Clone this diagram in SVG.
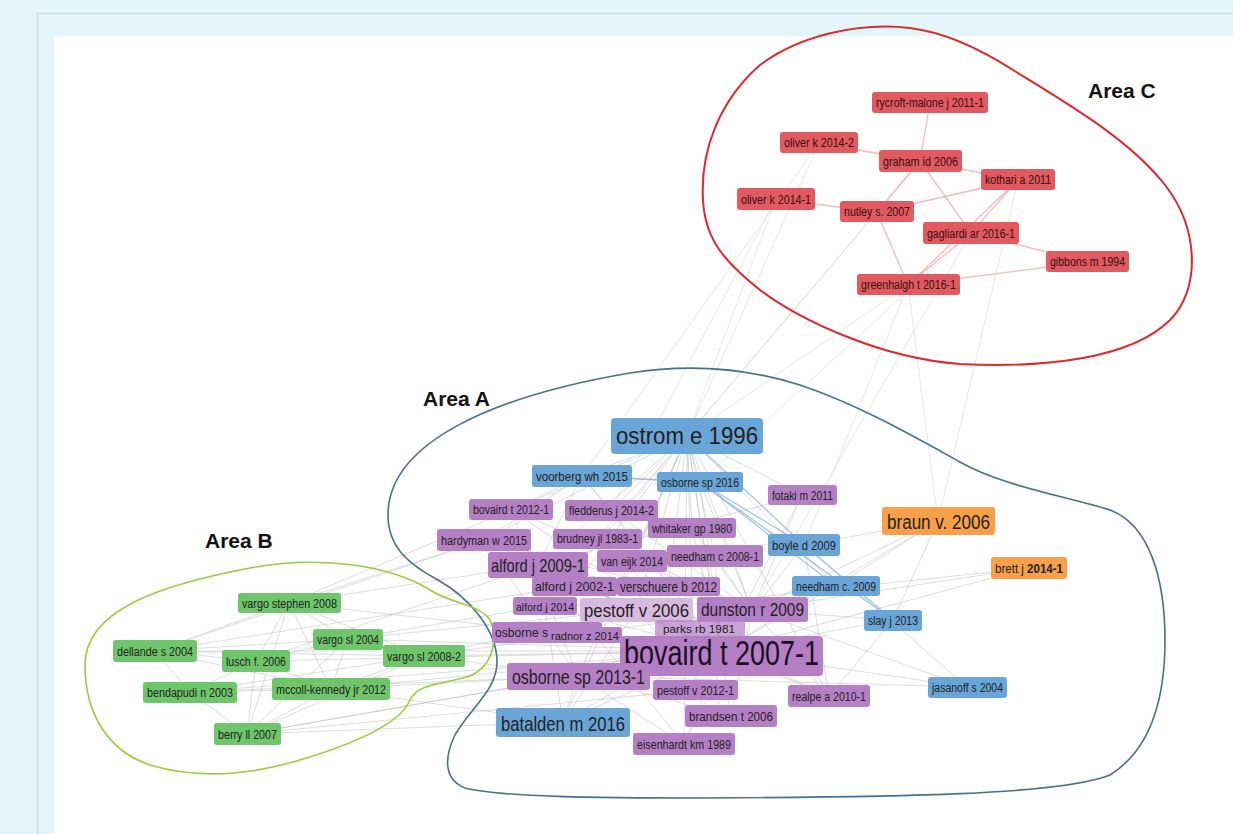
<svg xmlns="http://www.w3.org/2000/svg" width="1233" height="834" viewBox="0 0 1233 834">
<style>
.e{stroke:#b4b4b4;stroke-width:1;opacity:.45}
.el{stroke:#c4c4c4;stroke-width:1;opacity:.4}
.er{stroke:#ee9ca1;stroke-width:1.3;opacity:.7}
.eb{stroke:#6f9fc8;stroke-width:1.3;opacity:.6}
.eo{stroke:#f2c08e;stroke-width:1;opacity:.6}
.r{fill:#e05a60}
.p{fill:#b57fc6}
.b{fill:#6aa5d7}
.g{fill:#6ec56a}
.o{fill:#f8a049}
.t{font-family:"Liberation Sans",Arial,sans-serif;font-size:12px;fill:#222;text-anchor:middle}
.tr{fill:#3a0d10}
.lbl{font-family:"Liberation Sans",Arial,sans-serif;font-size:21px;font-weight:700;fill:#111}
.area{fill:none}
</style>
<rect x="0" y="0" width="1233" height="834" fill="#e2f6fa"/>
<line x1="37.5" y1="13.5" x2="37.5" y2="834" stroke="#cfd9dc" stroke-width="1.5"/>
<line x1="37.5" y1="13.5" x2="1233" y2="13.5" stroke="#cfd9dc" stroke-width="1.5"/>
<rect x="54" y="36" width="1179" height="798" fill="#ffffff"/>

<g id="connectors">
<!-- long links A to C -->
<line class="el" x1="687" y1="436" x2="776" y2="199"/>
<line class="el" x1="687" y1="436" x2="877" y2="212"/>
<line class="el" x1="687" y1="436" x2="908" y2="285"/>
<line class="el" x1="687" y1="436" x2="819" y2="143"/>
<line class="el" x1="687" y1="436" x2="920" y2="161"/>
<line class="el" x1="582" y1="476" x2="819" y2="143"/>
<line class="el" x1="938" y1="521" x2="908" y2="285"/>
<line class="el" x1="804" y1="545" x2="908" y2="285"/>
<line class="el" x1="752" y1="610" x2="971" y2="233"/>
<line class="el" x1="611" y1="510" x2="776" y2="199"/>
<line class="el" x1="938" y1="521" x2="1018" y2="180"/>
<line class="el" x1="700" y1="482" x2="971" y2="233"/>
<!-- red internal -->
<line class="er" x1="930" y1="103" x2="920" y2="161"/>
<line class="er" x1="819" y1="143" x2="920" y2="161"/>
<line class="er" x1="920" y1="161" x2="1018" y2="180"/>
<line class="er" x1="776" y1="199" x2="877" y2="212"/>
<line class="er" x1="877" y1="212" x2="1018" y2="180"/>
<line class="er" x1="920" y1="161" x2="971" y2="233"/>
<line class="er" x1="920" y1="161" x2="877" y2="212"/>
<line class="er" x1="877" y1="212" x2="908" y2="285"/>
<line class="er" x1="1018" y1="180" x2="908" y2="285"/>
<line class="er" x1="1018" y1="180" x2="971" y2="233"/>
<line class="er" x1="971" y1="233" x2="1087" y2="262"/>
<line class="er" x1="908" y1="285" x2="1087" y2="262"/>
<line class="er" x1="971" y1="233" x2="908" y2="285"/>
<!-- green internal -->
<line class="e" x1="289" y1="603" x2="348" y2="639"/>
<line class="e" x1="289" y1="603" x2="256" y2="661"/>
<line class="e" x1="289" y1="603" x2="331" y2="689"/>
<line class="e" x1="289" y1="603" x2="247" y2="734"/>
<line class="e" x1="289" y1="603" x2="155" y2="651"/>
<line class="e" x1="289" y1="603" x2="424" y2="656"/>
<line class="e" x1="155" y1="651" x2="190" y2="692"/>
<line class="e" x1="155" y1="651" x2="256" y2="661"/>
<line class="e" x1="155" y1="651" x2="348" y2="639"/>
<line class="e" x1="155" y1="651" x2="424" y2="656"/>
<line class="e" x1="155" y1="651" x2="331" y2="689"/>
<line class="e" x1="256" y1="661" x2="348" y2="639"/>
<line class="e" x1="256" y1="661" x2="331" y2="689"/>
<line class="e" x1="256" y1="661" x2="247" y2="734"/>
<line class="e" x1="190" y1="692" x2="247" y2="734"/>
<line class="e" x1="190" y1="692" x2="331" y2="689"/>
<line class="e" x1="331" y1="689" x2="348" y2="639"/>
<line class="e" x1="331" y1="689" x2="247" y2="734"/>
<line class="e" x1="348" y1="639" x2="247" y2="734"/>
<line class="e" x1="424" y1="656" x2="331" y2="689"/>
<line class="e" x1="424" y1="656" x2="247" y2="734"/>
<line class="e" x1="348" y1="639" x2="424" y2="656"/>
<line class="e" x1="190" y1="692" x2="256" y2="661"/>
<line class="e" x1="190" y1="692" x2="424" y2="656"/>
<!-- green to area A -->
<line class="e" x1="289" y1="603" x2="538" y2="565"/>
<line class="e" x1="289" y1="603" x2="721" y2="651"/>
<line class="e" x1="289" y1="603" x2="511" y2="510"/>
<line class="e" x1="289" y1="603" x2="484" y2="540"/>
<line class="e" x1="348" y1="639" x2="721" y2="651"/>
<line class="e" x1="348" y1="639" x2="636" y2="610"/>
<line class="e" x1="348" y1="639" x2="545" y2="606"/>
<line class="e" x1="424" y1="656" x2="721" y2="651"/>
<line class="e" x1="424" y1="656" x2="636" y2="610"/>
<line class="e" x1="424" y1="656" x2="578" y2="676"/>
<line class="e" x1="424" y1="656" x2="752" y2="610"/>
<line class="e" x1="331" y1="689" x2="721" y2="651"/>
<line class="e" x1="331" y1="689" x2="578" y2="676"/>
<line class="e" x1="331" y1="689" x2="563" y2="722"/>
<line class="e" x1="256" y1="661" x2="721" y2="651"/>
<line class="e" x1="256" y1="661" x2="538" y2="565"/>
<line class="e" x1="155" y1="651" x2="721" y2="651"/>
<line class="e" x1="155" y1="651" x2="484" y2="540"/>
<line class="e" x1="190" y1="692" x2="578" y2="676"/>
<line class="e" x1="190" y1="692" x2="721" y2="651"/>
<line class="e" x1="247" y1="734" x2="578" y2="676"/>
<line class="e" x1="247" y1="734" x2="721" y2="651"/>
<line class="e" x1="247" y1="734" x2="563" y2="722"/>
<line class="e" x1="247" y1="734" x2="695" y2="690"/>
<line class="e" x1="155" y1="651" x2="574" y2="586"/>
<!-- area A internal -->
<line class="e" x1="687" y1="436" x2="582" y2="476"/>
<line class="e" x1="687" y1="436" x2="700" y2="482"/>
<line class="e" x1="687" y1="436" x2="511" y2="510"/>
<line class="e" x1="687" y1="436" x2="611" y2="510"/>
<line class="e" x1="687" y1="436" x2="692" y2="528"/>
<line class="e" x1="687" y1="436" x2="597" y2="539"/>
<line class="e" x1="687" y1="436" x2="538" y2="565"/>
<line class="e" x1="687" y1="436" x2="632" y2="561"/>
<line class="e" x1="687" y1="436" x2="715" y2="556"/>
<line class="e" x1="687" y1="436" x2="836" y2="586"/>
<line class="e" x1="687" y1="436" x2="574" y2="586"/>
<line class="e" x1="687" y1="436" x2="668" y2="586"/>
<line class="e" x1="687" y1="436" x2="545" y2="606"/>
<line class="e" x1="687" y1="436" x2="636" y2="610"/>
<line class="e" x1="687" y1="436" x2="752" y2="610"/>
<line class="e" x1="687" y1="436" x2="721" y2="651"/>
<line class="e" x1="687" y1="436" x2="578" y2="676"/>
<line class="e" x1="687" y1="436" x2="563" y2="722"/>
<line class="e" x1="687" y1="436" x2="695" y2="690"/>
<line class="e" x1="687" y1="436" x2="684" y2="744"/>
<line class="e" x1="687" y1="436" x2="484" y2="540"/>
<line class="e" x1="687" y1="436" x2="829" y2="696"/>
<line class="e" x1="687" y1="436" x2="731" y2="716"/>
<line class="e" x1="687" y1="436" x2="802" y2="495"/>
<line class="e" x1="582" y1="476" x2="700" y2="482"/>
<line class="e" x1="582" y1="476" x2="511" y2="510"/>
<line class="e" x1="582" y1="476" x2="538" y2="565"/>
<line class="e" x1="582" y1="476" x2="721" y2="651"/>
<line class="e" x1="582" y1="476" x2="611" y2="510"/>
<line class="e" x1="582" y1="476" x2="484" y2="540"/>
<line class="e" x1="700" y1="482" x2="721" y2="651"/>
<line class="e" x1="700" y1="482" x2="752" y2="610"/>
<line class="e" x1="802" y1="495" x2="721" y2="651"/>
<line class="e" x1="802" y1="495" x2="752" y2="610"/>
<line class="e" x1="802" y1="495" x2="538" y2="565"/>
<line class="e" x1="721" y1="651" x2="511" y2="510"/>
<line class="e" x1="721" y1="651" x2="611" y2="510"/>
<line class="e" x1="721" y1="651" x2="692" y2="528"/>
<line class="e" x1="721" y1="651" x2="484" y2="540"/>
<line class="e" x1="721" y1="651" x2="597" y2="539"/>
<line class="e" x1="721" y1="651" x2="538" y2="565"/>
<line class="e" x1="721" y1="651" x2="632" y2="561"/>
<line class="e" x1="721" y1="651" x2="715" y2="556"/>
<line class="e" x1="721" y1="651" x2="804" y2="545"/>
<line class="e" x1="721" y1="651" x2="836" y2="586"/>
<line class="e" x1="721" y1="651" x2="574" y2="586"/>
<line class="e" x1="721" y1="651" x2="545" y2="606"/>
<line class="e" x1="721" y1="651" x2="578" y2="676"/>
<line class="e" x1="721" y1="651" x2="829" y2="696"/>
<line class="e" x1="721" y1="651" x2="563" y2="722"/>
<line class="e" x1="721" y1="651" x2="684" y2="744"/>
<line class="e" x1="721" y1="651" x2="893" y2="620"/>
<line class="e" x1="721" y1="651" x2="967" y2="687"/>
<line class="e" x1="721" y1="651" x2="938" y2="521"/>
<line class="e" x1="721" y1="651" x2="1029" y2="568"/>
<line class="e" x1="721" y1="651" x2="540" y2="632"/>
<line class="e" x1="752" y1="610" x2="938" y2="521"/>
<line class="eo" x1="804" y1="545" x2="938" y2="521"/>
<line class="e" x1="893" y1="620" x2="938" y2="521"/>
<line class="e" x1="836" y1="586" x2="938" y2="521"/>
<line class="e" x1="1029" y1="568" x2="752" y2="610"/>
<line class="e" x1="1029" y1="568" x2="636" y2="610"/>
<line class="e" x1="967" y1="687" x2="804" y2="545"/>
<line class="e" x1="967" y1="687" x2="578" y2="676"/>
<line class="e" x1="967" y1="687" x2="752" y2="610"/>
<line class="e" x1="829" y1="696" x2="752" y2="610"/>
<line class="e" x1="829" y1="696" x2="804" y2="545"/>
<line class="e" x1="829" y1="696" x2="538" y2="565"/>
<line class="e" x1="563" y1="722" x2="578" y2="676"/>
<line class="e" x1="563" y1="722" x2="636" y2="610"/>
<line class="e" x1="563" y1="722" x2="538" y2="565"/>
<line class="e" x1="563" y1="722" x2="752" y2="610"/>
<line class="e" x1="684" y1="744" x2="578" y2="676"/>
<line class="e" x1="684" y1="744" x2="752" y2="610"/>
<line class="e" x1="684" y1="744" x2="538" y2="565"/>
<line class="e" x1="731" y1="716" x2="636" y2="610"/>
<line class="e" x1="731" y1="716" x2="752" y2="610"/>
<line class="e" x1="731" y1="716" x2="578" y2="676"/>
<line class="e" x1="578" y1="676" x2="752" y2="610"/>
<line class="e" x1="538" y1="565" x2="752" y2="610"/>
<line class="e" x1="538" y1="565" x2="636" y2="610"/>
<line class="e" x1="484" y1="540" x2="636" y2="610"/>
<line class="e" x1="484" y1="540" x2="752" y2="610"/>
<line class="e" x1="484" y1="540" x2="578" y2="676"/>
<line class="e" x1="511" y1="510" x2="752" y2="610"/>
<line class="e" x1="511" y1="510" x2="578" y2="676"/>
<line class="e" x1="611" y1="510" x2="752" y2="610"/>
<line class="e" x1="597" y1="539" x2="752" y2="610"/>
<line class="e" x1="692" y1="528" x2="752" y2="610"/>
<line class="e" x1="715" y1="556" x2="752" y2="610"/>
<line class="e" x1="836" y1="586" x2="752" y2="610"/>
<line class="e" x1="893" y1="620" x2="752" y2="610"/>
<line class="e" x1="893" y1="620" x2="829" y2="696"/>
<line class="eb" x1="687" y1="436" x2="804" y2="545"/>
<line class="eb" x1="700" y1="482" x2="804" y2="545"/>
<line class="eb" x1="700" y1="482" x2="836" y2="586"/>
<line class="eb" x1="700" y1="482" x2="893" y2="620"/>
<line class="eb" x1="804" y1="545" x2="893" y2="620"/>
<line class="eb" x1="582" y1="476" x2="700" y2="482"/>
</g>

<g id="areas">
<path class="area" stroke="#e0272c" stroke-width="2" d="M 703,200 C 700,150 720,100 760,65 C 800,35 860,22 910,28 C 950,33 985,52 1013,70 C 1070,105 1130,140 1165,185 C 1200,230 1200,290 1170,320 C 1130,360 1040,368 960,364 C 880,358 800,320 760,290 C 725,262 705,240 703,200 Z"/>
<path class="area" stroke="#46708f" stroke-width="1.6" d="M 630,373 C 680,365 740,366 800,385 C 860,405 920,440 960,462 C 1000,485 1060,495 1110,510 C 1150,525 1165,580 1165,640 C 1165,700 1150,750 1110,775 C 1060,795 900,797 700,798 C 600,798 500,797 465,788 C 445,780 443,760 455,735 C 470,708 498,690 497,660 C 496,630 470,598 438,580 C 410,565 388,548 388,515 C 388,440 500,395 630,373 Z"/>
<path class="area" stroke="#98cc3c" stroke-width="1.6" d="M 85,665 C 85,610 160,585 250,568 C 320,555 390,565 430,590 C 450,603 480,605 490,620 C 498,635 495,665 470,676 C 445,684 418,683 410,700 C 400,725 350,745 300,760 C 250,775 200,780 150,765 C 105,750 85,710 85,665 Z"/>
<text class="lbl" x="1088" y="98">Area C</text>
<text class="lbl" x="423" y="406">Area A</text>
<text class="lbl" x="205" y="548">Area B</text>
</g>

<g id="n-rycroft"><rect class="r" x="872" y="92" width="116" height="21" rx="3"/><text class="t tr" x="930" y="107" textLength="108" lengthAdjust="spacingAndGlyphs">rycroft-malone j 2011-1</text></g>
<g id="n-oliver2"><rect class="r" x="780" y="132" width="78" height="21" rx="3"/><text class="t tr" x="819" y="147" textLength="70" lengthAdjust="spacingAndGlyphs">oliver k 2014-2</text></g>
<g id="n-graham"><rect class="r" x="879" y="150" width="83" height="22" rx="3"/><text class="t tr" x="920.5" y="165.5" textLength="75" lengthAdjust="spacingAndGlyphs">graham id 2006</text></g>
<g id="n-kothari"><rect class="r" x="981" y="169" width="74" height="21" rx="3"/><text class="t tr" x="1018" y="184" textLength="66" lengthAdjust="spacingAndGlyphs">kothari a 2011</text></g>
<g id="n-oliver1"><rect class="r" x="737" y="188" width="78" height="22" rx="3"/><text class="t tr" x="776" y="203.5" textLength="70" lengthAdjust="spacingAndGlyphs">oliver k 2014-1</text></g>
<g id="n-nutley"><rect class="r" x="840" y="201" width="74" height="21" rx="3"/><text class="t tr" x="877" y="216" textLength="66" lengthAdjust="spacingAndGlyphs">nutley s. 2007</text></g>
<g id="n-gagliardi"><rect class="r" x="923" y="222" width="96" height="22" rx="3"/><text class="t tr" x="971" y="237.5" textLength="88" lengthAdjust="spacingAndGlyphs">gagliardi ar 2016-1</text></g>
<g id="n-gibbons"><rect class="r" x="1046" y="251" width="83" height="21" rx="3"/><text class="t tr" x="1087.5" y="266" textLength="75" lengthAdjust="spacingAndGlyphs">gibbons m 1994</text></g>
<g id="n-greenhalgh"><rect class="r" x="857" y="274" width="103" height="21" rx="3"/><text class="t tr" x="908.5" y="289" textLength="95" lengthAdjust="spacingAndGlyphs">greenhalgh t 2016-1</text></g>

<g id="n-ostrom"><rect class="b" x="611" y="418" width="152" height="36" rx="4"/><text class="t" x="687" y="444" style="font-size:24px" textLength="142" lengthAdjust="spacingAndGlyphs">ostrom e 1996</text></g>
<g id="n-voorberg"><rect class="b" x="532" y="465" width="100" height="22" rx="3"/><text class="t" x="582" y="480.5" textLength="92" lengthAdjust="spacingAndGlyphs">voorberg wh 2015</text></g>
<g id="n-osborne2016"><rect class="b" x="657" y="472" width="86" height="20" rx="3"/><text class="t" x="700" y="486.5" textLength="78" lengthAdjust="spacingAndGlyphs">osborne sp 2016</text></g>
<g id="n-fotaki"><rect class="p" x="768" y="485" width="69" height="20" rx="3"/><text class="t" x="802.5" y="499.5" textLength="61" lengthAdjust="spacingAndGlyphs">fotaki m 2011</text></g>
<g id="n-bovaird2012"><rect class="p" x="469" y="499" width="84" height="21" rx="3"/><text class="t" x="511" y="514" textLength="76" lengthAdjust="spacingAndGlyphs">bovaird t 2012-1</text></g>
<g id="n-fledderus"><rect class="p" x="565" y="500" width="93" height="21" rx="3"/><text class="t" x="611.5" y="515" textLength="85" lengthAdjust="spacingAndGlyphs">fledderus j 2014-2</text></g>
<g id="n-whitaker"><rect class="p" x="648" y="518" width="88" height="20" rx="3"/><text class="t" x="692" y="532.5" textLength="80" lengthAdjust="spacingAndGlyphs">whitaker gp 1980</text></g>
<g id="n-hardyman"><rect class="p" x="437" y="529" width="94" height="22" rx="3"/><text class="t" x="484" y="544.5" textLength="86" lengthAdjust="spacingAndGlyphs">hardyman w 2015</text></g>
<g id="n-brudney"><rect class="p" x="553" y="529" width="89" height="20" rx="3"/><text class="t" x="597.5" y="543" textLength="81" lengthAdjust="spacingAndGlyphs">brudney jl 1983-1</text></g>
<g id="n-boyle"><rect class="b" x="768" y="534" width="72" height="22" rx="3"/><text class="t" x="804" y="549.5" textLength="64" lengthAdjust="spacingAndGlyphs">boyle d 2009</text></g>
<g id="n-needham2008"><rect class="p" x="667" y="545" width="96" height="22" rx="3"/><text class="t" x="715" y="560.5" textLength="88" lengthAdjust="spacingAndGlyphs">needham c 2008-1</text></g>
<g id="n-vaneijk"><rect class="p" x="597" y="550" width="70" height="22" rx="3"/><text class="t" x="632" y="566" textLength="62" lengthAdjust="spacingAndGlyphs">van eijk 2014</text></g>
<g id="n-alford2009"><rect class="p" x="488" y="552" width="100" height="26" rx="3"/><text class="t" x="538" y="572" style="font-size:19px" textLength="94" lengthAdjust="spacingAndGlyphs">alford j 2009-1</text></g>
<g id="n-needham2009"><rect class="b" x="792" y="576" width="88" height="20" rx="3"/><text class="t" x="836" y="590.5" textLength="80" lengthAdjust="spacingAndGlyphs">needham c. 2009</text></g>
<g id="n-alford2002"><rect class="p" x="532" y="577" width="85" height="19" rx="3"/><text class="t" x="574.5" y="591" style="font-size:13px" textLength="79" lengthAdjust="spacingAndGlyphs">alford j 2002-1</text></g>
<g id="n-verschuere"><rect class="p" x="617" y="577" width="103" height="19" rx="3"/><text class="t" x="668.5" y="591.5" style="font-size:14px" textLength="97" lengthAdjust="spacingAndGlyphs">verschuere b 2012</text></g>
<g id="n-alford2014"><rect class="p" x="513" y="597" width="64" height="18" rx="3"/><text class="t" x="545" y="610.5" style="font-size:11px" textLength="58" lengthAdjust="spacingAndGlyphs">alford j 2014</text></g>
<g id="n-pestoff2006"><rect x="580" y="598" width="113" height="24" rx="3" fill="#d8b9e0"/><text class="t" x="636.5" y="617" style="font-size:19px" textLength="105" lengthAdjust="spacingAndGlyphs">pestoff v 2006</text></g>
<g id="n-dunston"><rect class="p" x="697" y="597" width="111" height="25" rx="3"/><text class="t" x="752.5" y="616" style="font-size:19px" textLength="103" lengthAdjust="spacingAndGlyphs">dunston r 2009</text></g>
<g id="n-osbornes"><rect class="p" x="492" y="622" width="110" height="21" rx="3"/><text class="t" x="495" y="637" style="text-anchor:start;font-size:13px" textLength="53" lengthAdjust="spacingAndGlyphs">osborne s</text></g>
<g id="n-radnor"><rect class="p" x="548" y="627" width="74" height="16" rx="3"/><text class="t" x="585" y="640" style="font-size:11px" textLength="68" lengthAdjust="spacingAndGlyphs">radnor z 2014</text></g>
<g id="n-parks"><rect class="p" x="655" y="620" width="90" height="18" rx="3" opacity=".7"/><text class="t" x="699" y="633" style="font-size:11.5px" textLength="72" lengthAdjust="spacingAndGlyphs">parks rb 1981</text></g>
<g id="n-bovaird2007"><rect class="p" x="620" y="636" width="203" height="40" rx="4"/><text class="t" x="721.5" y="665" style="font-size:35px;fill:#1c0f22" textLength="195" lengthAdjust="spacingAndGlyphs">bovaird t 2007-1</text></g>
<g id="n-osborne2013"><rect class="p" x="507" y="663" width="143" height="27" rx="3"/><text class="t" x="578.5" y="684" style="font-size:20px" textLength="133" lengthAdjust="spacingAndGlyphs">osborne sp 2013-1</text></g>
<g id="n-pestoff2012"><rect class="p" x="653" y="680" width="85" height="20" rx="3"/><text class="t" x="695.5" y="694.5" textLength="77" lengthAdjust="spacingAndGlyphs">pestoff v 2012-1</text></g>
<g id="n-realpe"><rect class="p" x="788" y="685" width="82" height="22" rx="3"/><text class="t" x="829" y="700.5" textLength="74" lengthAdjust="spacingAndGlyphs">realpe a 2010-1</text></g>
<g id="n-brandsen"><rect class="p" x="685" y="705" width="92" height="22" rx="3"/><text class="t" x="731" y="720.5" textLength="84" lengthAdjust="spacingAndGlyphs">brandsen t 2006</text></g>
<g id="n-batalden"><rect class="b" x="496" y="708" width="134" height="29" rx="3"/><text class="t" x="563" y="730.5" style="font-size:21px" textLength="124" lengthAdjust="spacingAndGlyphs">batalden m 2016</text></g>
<g id="n-eisenhardt"><rect class="p" x="633" y="733" width="102" height="22" rx="3"/><text class="t" x="684" y="748.5" textLength="94" lengthAdjust="spacingAndGlyphs">eisenhardt km 1989</text></g>
<g id="n-braun"><rect class="o" x="882" y="507" width="113" height="28" rx="3"/><text class="t" x="938.5" y="528.5" style="font-size:20px" textLength="103" lengthAdjust="spacingAndGlyphs">braun v. 2006</text></g>
<g id="n-brett"><rect class="o" x="991" y="557" width="76" height="22" rx="3"/><text class="t" x="1029" y="572.5" textLength="68" lengthAdjust="spacingAndGlyphs">brett j <tspan font-weight="700">2014-1</tspan></text></g>
<g id="n-slay"><rect class="b" x="864" y="610" width="58" height="21" rx="3"/><text class="t" x="893" y="625" textLength="50" lengthAdjust="spacingAndGlyphs">slay j 2013</text></g>
<g id="n-jasanoff"><rect class="b" x="928" y="677" width="79" height="21" rx="3"/><text class="t" x="967.5" y="692" textLength="71" lengthAdjust="spacingAndGlyphs">jasanoff s 2004</text></g>

<g id="n-vargostephen"><rect class="g" x="238" y="593" width="103" height="20" rx="3"/><text class="t" x="289.5" y="607.5" textLength="95" lengthAdjust="spacingAndGlyphs">vargo stephen 2008</text></g>
<g id="n-vargo2004"><rect class="g" x="313" y="629" width="70" height="21" rx="3"/><text class="t" x="348" y="644" textLength="62" lengthAdjust="spacingAndGlyphs">vargo sl 2004</text></g>
<g id="n-dellande"><rect class="g" x="113" y="640" width="84" height="22" rx="3"/><text class="t" x="155" y="655.5" textLength="76" lengthAdjust="spacingAndGlyphs">dellande s 2004</text></g>
<g id="n-lusch"><rect class="g" x="222" y="650" width="68" height="22" rx="3"/><text class="t" x="256" y="665.5" textLength="60" lengthAdjust="spacingAndGlyphs">lusch f. 2006</text></g>
<g id="n-vargo2008"><rect class="g" x="383" y="645" width="82" height="22" rx="3"/><text class="t" x="424" y="660.5" textLength="74" lengthAdjust="spacingAndGlyphs">vargo sl 2008-2</text></g>
<g id="n-bendapudi"><rect class="g" x="143" y="682" width="94" height="21" rx="3"/><text class="t" x="190" y="697" textLength="86" lengthAdjust="spacingAndGlyphs">bendapudi n 2003</text></g>
<g id="n-mccoll"><rect class="g" x="272" y="678" width="118" height="22" rx="3"/><text class="t" x="331" y="693.5" textLength="110" lengthAdjust="spacingAndGlyphs">mccoll-kennedy jr 2012</text></g>
<g id="n-berry"><rect class="g" x="214" y="723" width="67" height="22" rx="3"/><text class="t" x="247.5" y="738.5" textLength="59" lengthAdjust="spacingAndGlyphs">berry ll 2007</text></g>
</svg>
